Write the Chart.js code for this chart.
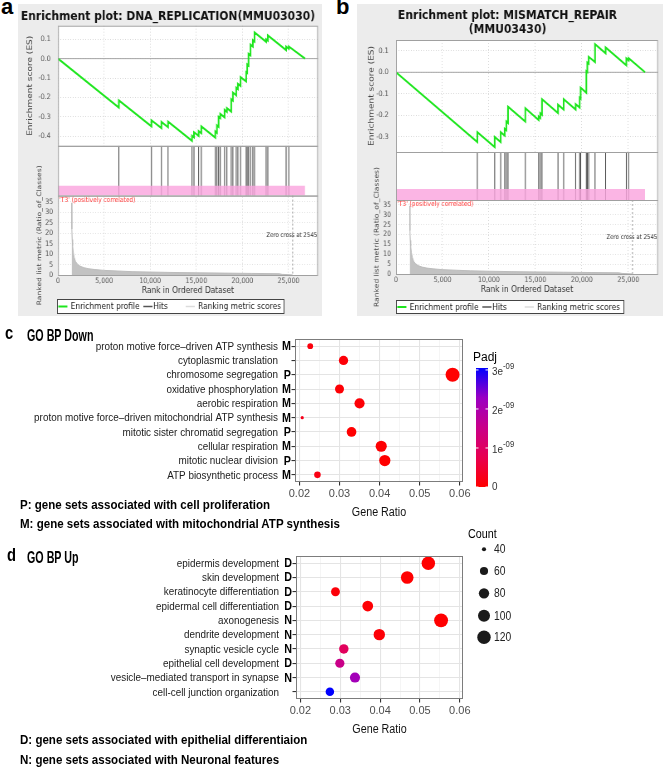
<!DOCTYPE html>
<html>
<head>
<meta charset="utf-8">
<title>GSEA enrichment plots and GO BP dot plots</title>
<script src="https://cdn.jsdelivr.net/npm/chart.js@4.4.1/dist/chart.umd.min.js"></script>
<style>
  html, body { margin: 0; padding: 0; background: #fff; }
  #page { position: relative; width: 669px; height: 767px; overflow: hidden; }
  canvas { display: block; }
  .gsea { position: absolute; top: 4px; transform-origin: 0 0; transform: scaleX(0.83); }
  .dot { position: absolute; left: 0; }
  .t { position: absolute; white-space: nowrap; line-height: 1; font-weight: bold; color: #000;
       font-family: "Liberation Sans", Arial, sans-serif; transform-origin: 0 0; }
</style>
</head>
<body>
<div id="page">
  <div class="gsea" style="left:18px"><canvas id="gseaA" width="366" height="312"></canvas></div>
  <div class="gsea" style="left:357px"><canvas id="gseaB" width="369" height="312"></canvas></div>
  <canvas id="goDown" class="dot" style="top:330px" width="535" height="192"></canvas>
  <canvas id="goUp" class="dot" style="top:520px" width="545" height="222"></canvas>

  <div class="t" style="left:1px;top:-4px;font-size:22px">a</div>
  <div class="t" style="left:336px;top:-4px;font-size:22px">b</div>
  <div class="t" style="left:5px;top:324px;font-size:18px;transform:scaleX(0.82)">c</div>
  <div class="t" style="left:27px;top:326.5px;font-size:17px;transform:scaleX(0.63)">GO BP Down</div>
  <div class="t" style="left:20px;top:497.6px;font-size:13.5px;transform:scaleX(0.855)">P: gene sets associated with cell proliferation</div>
  <div class="t" style="left:20px;top:516.6px;font-size:13.5px;transform:scaleX(0.855)">M: gene sets associated with mitochondrial ATP synthesis</div>
  <div class="t" style="left:7px;top:546px;font-size:18px;transform:scaleX(0.82)">d</div>
  <div class="t" style="left:27px;top:548.6px;font-size:17px;transform:scaleX(0.63)">GO BP Up</div>
  <div class="t" style="left:20px;top:732.6px;font-size:13.5px;transform:scaleX(0.855)">D: gene sets associated with epithelial differentiaion</div>
  <div class="t" style="left:20px;top:752.6px;font-size:13.5px;transform:scaleX(0.855)">N: gene sets associated with Neuronal features</div>
</div>

<script>
// ---------------- data ----------------

// GSEA running enrichment score, vertices [rank, ES]
const esCurveA = [
  [0, 0],
  [6600, -0.253], [6600, -0.215],
  [10134, -0.350], [10134, -0.318],
  [11216, -0.359], [11216, -0.326],
  [11937, -0.354], [11937, -0.325],
  [14535, -0.424], [14535, -0.398],
  [14751, -0.406], [14751, -0.380],
  [15256, -0.399], [15256, -0.374],
  [15545, -0.385], [15545, -0.350],
  [17060, -0.408], [17060, -0.376],
  [17240, -0.383], [17240, -0.345],
  [17420, -0.352], [17420, -0.300],
  [17600, -0.307], [17600, -0.285],
  [18069, -0.303], [18069, -0.265],
  [18321, -0.275], [18321, -0.255],
  [18790, -0.273], [18790, -0.210],
  [18970, -0.217], [18970, -0.175],
  [19331, -0.189], [19331, -0.150],
  [19511, -0.157], [19511, -0.130],
  [19800, -0.141], [19800, -0.095],
  [20413, -0.118], [20413, -0.070],
  [20521, -0.074], [20521, -0.030],
  [20666, -0.036], [20666, 0.025],
  [20882, 0.017], [20882, 0.072],
  [21134, 0.062], [21134, 0.095],
  [21316, 0.088], [21316, 0.135],
  [22578, 0.087], [22578, 0.100],
  [22758, 0.093], [22758, 0.120],
  [24743, 0.044], [24743, 0.062],
  [25032, 0.051], [25032, 0.063],
  [26800, 0]
];
const hitsA = [6600, 10134, 11216, 11937, 14535, 14751, 15256, 15545, 17060, 17240, 17420, 17600,
  18069, 18321, 18790, 18970, 19331, 19511, 19800, 20413, 20521, 20666, 20882, 21134, 21316,
  22578, 22758, 24743, 25032];

const esCurveB = [
  [0, 0],
  [8751, -0.324], [8751, -0.278],
  [10617, -0.347], [10617, -0.300],
  [11263, -0.324], [11263, -0.278],
  [11694, -0.294], [11694, -0.262],
  [11873, -0.269], [11873, -0.228],
  [12053, -0.235], [12053, -0.160],
  [13915, -0.229], [13915, -0.167],
  [15350, -0.222], [15350, -0.205],
  [15529, -0.212], [15529, -0.190],
  [15710, -0.197], [15710, -0.125],
  [17432, -0.189], [17432, -0.150],
  [18042, -0.173], [18042, -0.125],
  [19333, -0.173], [19333, -0.148],
  [19764, -0.164], [19764, -0.118],
  [19871, -0.122], [19871, -0.072],
  [20481, -0.095], [20481, 0.005],
  [20588, 0.001], [20588, 0.045],
  [20731, 0.040], [20731, 0.072],
  [21420, 0.047], [21420, 0.130],
  [22557, 0.088], [22557, 0.115],
  [24784, 0.033], [24784, 0.065],
  [25035, 0.056], [25035, 0.065],
  [26800, 0]
];
const hitsB = [8751, 10617, 11263, 11694, 11873, 12053, 13915, 15350, 15529, 15710, 17432, 18042,
  19333, 19764, 19871, 20481, 20588, 20731, 21420, 22557, 24784, 25035];

// ranked list metric (same ranked list in both panels)
const metricRank  = [1480, 1490, 1510, 1540, 1580, 1650, 1750, 1900, 2100, 2400, 2800, 3300, 4000,
  5000, 6500, 8000, 10000, 12500, 15000, 18000, 21000, 24000, 24300, 25000, 25450];
const metricValue = [34.5, 30, 22, 17, 14, 11, 8.5, 6.5, 5.2, 4.2, 3.5, 3.0, 2.6,
  2.2, 1.9, 1.6, 1.4, 1.2, 1.05, 0.9, 0.75, 0.6, 0.3, 0.15, 0];
const rankTicks = [0, 5000, 10000, 15000, 20000, 25000];
const datasetSize = 26800;
const zeroCross = 25450;
const gseaLegend = ['Enrichment profile', 'Hits', 'Ranking metric scores'];

// GO BP Down
const downTerms = ['proton motive force\u2013driven ATP synthesis', 'cytoplasmic translation',
  'chromosome segregation', 'oxidative phosphorylation', 'aerobic respiration',
  'proton motive force\u2013driven mitochondrial ATP synthesis', 'mitotic sister chromatid segregation',
  'cellular respiration', 'mitotic nuclear division', 'ATP biosynthetic process'];
const downTags   = ['M', '', 'P', 'M', 'M', 'M', 'P', 'M', 'P', 'M'];
const downRatio  = [0.0227, 0.0310, 0.0582, 0.0300, 0.0350, 0.0207, 0.0330, 0.0404, 0.0413, 0.0245];
const downCount  = [43, 62, 111, 60, 69, 39, 65, 78, 79, 46];
const downPadj   = [1.2e-10, 8e-11, 2e-12, 5e-11, 6e-11, 2.6e-10, 1e-11, 3e-11, 4e-12, 1.8e-10];
const padjTicks  = [0, 1e-9, 2e-9, 3e-9];

// GO BP Up
const upTerms = ['epidermis development', 'skin development', 'keratinocyte differentiation',
  'epidermal cell differentiation', 'axonogenesis', 'dendrite development', 'synaptic vesicle cycle',
  'epithelial cell development', 'vesicle\u2013mediated transport in synapse', 'cell-cell junction organization'];
const upTags   = ['D', 'D', 'D', 'D', 'N', 'N', 'N', 'D', 'N', ''];
const upRatio  = [0.0521, 0.0468, 0.0288, 0.0369, 0.0553, 0.0398, 0.0309, 0.0299, 0.0337, 0.0274];
const upCount  = [120, 108, 66, 85, 127, 92, 71, 69, 78, 63];
const upPadj   = [2.1e-6, 4.0e-6, 1.5e-5, 8.0e-6, 3.0e-6, 1.2e-5, 1.35e-4, 2.2e-4, 3.1e-4, 4.4e-4];
const countBreaks = [40, 60, 80, 100, 120];

// ---------------- helpers ----------------
const SANS = '"Liberation Sans", Arial, sans-serif';
const DEJAVU = '"DejaVu Sans", sans-serif';
const CK = 0.86;   // the figure's text is horizontally squeezed

function fillC(ctx, text, x, y, k) {
  ctx.fillText(text, x, y, ctx.measureText(text).width * (k || CK));
}

// ggplot-like red -> blue gradient (Lab interpolated stops)
const padjStops = [[255, 0, 0], [232, 0, 80], [201, 0, 137], [154, 0, 195], [0, 0, 255]];
function padjColor(t) {
  t = Math.max(0, Math.min(1, t));
  const p = t * 4, i = Math.min(3, Math.floor(p)), f = p - i;
  const a = padjStops[i], b = padjStops[i + 1];
  return 'rgb(' + a.map((v, k) => Math.round(v + (b[k] - v) * f)).join(',') + ')';
}
function isMajor(v) { return Math.abs(v * 100 - Math.round(v * 100)) < 1e-6; }

// ---------------- GSEA panels ----------------
const gseaDecor = {
  id: 'gseaDecor',
  beforeDraw(chart) {
    const {ctx, chartArea: a} = chart;
    ctx.save();
    ctx.fillStyle = '#ececec';
    ctx.fillRect(0, 0, chart.width, chart.height);
    ctx.fillStyle = '#fff';
    ctx.fillRect(a.left, a.top, a.width, a.height);
    ctx.restore();
  },
  beforeDatasetsDraw(chart) {
    const {ctx, chartArea: a, scales} = chart;
    const h = scales.yHits, r = scales.yRank;
    ctx.save();
    ctx.fillStyle = '#fff';
    ctx.fillRect(a.left, h.top, a.width, h.bottom - h.top);
    const y0 = scales.yES.getPixelForValue(0);
    ctx.strokeStyle = '#a5a5a5';
    ctx.lineWidth = 1;
    ctx.beginPath(); ctx.moveTo(a.left, y0); ctx.lineTo(a.right, y0); ctx.stroke();
    const xz = scales.x.getPixelForValue(zeroCross);
    ctx.setLineDash([2, 2]);
    ctx.strokeStyle = '#9a9a9a';
    ctx.beginPath(); ctx.moveTo(xz, r.top); ctx.lineTo(xz, r.bottom); ctx.stroke();
    ctx.restore();
  },
  afterDraw(chart, args, o) {
    const {ctx, chartArea: a, scales} = chart;
    ctx.save();
    ctx.strokeStyle = '#a0a0a0';
    ctx.lineWidth = 1;
    ['yES', 'yHits', 'yRank'].forEach(id => {
      const s = scales[id];
      ctx.strokeRect(a.left + 0.5, s.top + 0.5, a.width - 1, s.bottom - s.top);
    });
    ctx.font = '7px ' + DEJAVU;
    ctx.fillStyle = '#ff3b3b';
    ctx.textBaseline = 'top';
    ctx.fillText("'T3' (positively correlated)", a.left + 1.5, scales.yRank.top + 1);
    ctx.fillStyle = '#333';
    ctx.font = '6.5px ' + DEJAVU;
    ctx.textAlign = 'right';
    ctx.textBaseline = 'middle';
    ctx.fillText('Zero cross at 2545', a.right - 1, scales.yRank.top + (scales.yRank.bottom - scales.yRank.top) * 0.5);
    // legend box
    const L = o.legend;
    ctx.fillStyle = '#fff';
    ctx.fillRect(L.x, L.y, L.w, L.h);
    ctx.strokeStyle = '#444';
    ctx.strokeRect(L.x + 0.5, L.y + 0.5, L.w - 1, L.h - 1);
    const cy = L.y + L.h / 2;
    const items = [
      {c: 'rgb(30,230,30)', x: 1.5, tx: 16.5},
      {c: '#555', x: 104, tx: 116},
      {c: '#dcdcdc', x: 155, tx: 170}
    ];
    ctx.font = '9px ' + DEJAVU;
    ctx.textAlign = 'left';
    items.forEach((it, i) => {
      ctx.strokeStyle = it.c;
      ctx.lineWidth = i === 0 ? 2 : 1.5;
      ctx.beginPath(); ctx.moveTo(L.x + it.x, cy); ctx.lineTo(L.x + it.x + 11, cy); ctx.stroke();
      ctx.fillStyle = '#222';
      ctx.fillText(gseaLegend[i], L.x + it.tx, cy + 0.5);
    });
    ctx.restore();
  }
};

function makeGsea(id, o) {
  const hitData = [];
  o.hits.forEach(r => { hitData.push({x: r, y: 0}, {x: r, y: 1}, {x: r, y: null}); });
  const tickFont = {family: DEJAVU, size: 7.5};
  const titleFont = {family: DEJAVU, size: 9};
  return new Chart(document.getElementById(id), {
    type: 'line',
    data: {
      datasets: [
        {label: gseaLegend[0], data: o.es.map(p => ({x: p[0], y: p[1]})), yAxisID: 'yES',
         borderColor: 'rgb(30,230,30)', borderWidth: 2, pointRadius: 0, order: 0},
        {label: 'bar', data: [{x: 0, y: o.pink}, {x: datasetSize, y: o.pink}], yAxisID: 'yHits',
         borderWidth: 0, pointRadius: 0, fill: 'origin', backgroundColor: 'rgba(250,165,222,0.82)', order: 1},
        {label: gseaLegend[1], data: hitData, yAxisID: 'yHits', borderColor: '#444', borderWidth: 1,
         pointRadius: 0, spanGaps: false, order: 2},
        {label: gseaLegend[2], data: metricRank.map((r, i) => ({x: r, y: metricValue[i]})), yAxisID: 'yRank',
         borderColor: '#bcbcbc', borderWidth: 1, backgroundColor: '#c2c2c2', fill: 'origin', pointRadius: 0, order: 3}
      ]
    },
    options: {
      responsive: false, animation: false, devicePixelRatio: 1,
      layout: {padding: {left: 0, right: o.padRight, top: 0, bottom: o.padBottom}},
      plugins: {
        legend: {display: false}, tooltip: {enabled: false},
        title: {display: true, text: o.title, color: '#111', font: {family: DEJAVU, size: 13, weight: 'bold', lineHeight: 1.1},
                padding: {top: o.titleTop, bottom: o.titleBottom}},
        gseaDecor: {legend: o.legend}
      },
      scales: {
        x: {
          type: 'linear', min: 0, max: 28200,
          afterBuildTicks: s => { s.ticks = rankTicks.map(v => ({value: v})); },
          ticks: {autoSkip: false, maxRotation: 0, padding: 1.5,
                  color: '#555', font: tickFont, callback: v => v.toLocaleString('en-US')},
          grid: {color: '#d9d9d9', drawTicks: false},
          border: {display: false, dash: [1, 2]},
          title: {display: true, text: 'Rank in Ordered Dataset', color: '#333', font: titleFont, padding: {top: 0, bottom: 3}},
          afterFit: s => { s.height = 24; }
        },
        yES: {
          type: 'linear', position: 'left', stack: 'g', stackWeight: o.w[0], weight: 3,
          min: o.esMin, max: o.esMax,
          ticks: {stepSize: 0.1, includeBounds: false, autoSkip: false, padding: 9, color: '#555', font: tickFont,
                  callback: v => v.toFixed(1)},
          grid: {color: '#d9d9d9', drawTicks: false},
          border: {display: false, dash: [1, 2]},
          title: {display: true, text: 'Enrichment score (ES)', color: '#444', font: titleFont, padding: {top: o.esTitle, bottom: 0}},
          afterFit: s => { s.width = o.axisW; }
        },
        yHits: {
          type: 'linear', position: 'left', stack: 'g', stackWeight: o.w[1], weight: 2, min: 0, max: 1,
          ticks: {display: false}, grid: {display: false}, border: {display: false},
          afterFit: s => { s.width = o.axisW; }
        },
        yRank: {
          type: 'linear', position: 'left', stack: 'g', stackWeight: o.w[2], weight: 1, min: 0, max: o.rankMax,
          ticks: {stepSize: 5, includeBounds: false, autoSkip: false, padding: 6, color: '#555', font: tickFont},
          grid: {color: '#e2e2e2', drawTicks: false},
          border: {display: false, dash: [1, 2]},
          title: {display: true, text: 'Ranked list metric (Ratio_of_Classes)', color: '#444',
                  font: {family: DEJAVU, size: 7.6}, padding: {top: o.rankTitle, bottom: 0}},
          afterFit: s => { s.width = o.axisW; }
        }
      }
    },
    plugins: [gseaDecor]
  });
}

makeGsea('gseaA', {
  es: esCurveA, hits: hitsA, title: 'Enrichment plot: DNA_REPLICATION(MMU03030)',
  esMin: -0.45, esMax: 0.17, rankMax: 38, pink: 0.2, w: [119.5, 49.5, 79],
  axisW: 48.2, padRight: 4.6, padBottom: 17, titleTop: 5.2, titleBottom: 2.2,
  esTitle: 9, rankTitle: 21, legend: {x: 47, y: 295, w: 274, h: 15}
});
makeGsea('gseaB', {
  es: esCurveB, hits: hitsB, title: ['Enrichment plot: MISMATCH_REPAIR', '(MMU03430)'],
  esMin: -0.37, esMax: 0.15, rankMax: 37.5, pink: 0.23, w: [112, 48, 74],
  axisW: 47, padRight: 6.3, padBottom: 18, titleTop: 4.5, titleBottom: 2.9,
  esTitle: 12.3, rankTitle: 19.3, legend: {x: 47, y: 296, w: 275, h: 14}
});

// ---------------- GO BP dot plots ----------------
const dotDecor = {
  id: 'dotDecor',
  afterDraw(chart, args, o) {
    const {ctx, chartArea: a, scales: {y}} = chart;
    ctx.save();
    ctx.strokeStyle = '#7c7c7c';
    ctx.lineWidth = 1;
    ctx.strokeRect(a.left + 0.5, a.top + 0.5, a.width - 1, a.height - 1);
    // term names and their group letters
    ctx.textAlign = 'right';
    ctx.textBaseline = 'middle';
    o.terms.forEach((t, i) => {
      const yy = y.getPixelForValue(i);
      ctx.fillStyle = '#1a1a1a';
      ctx.font = '11.5px ' + SANS;
      fillC(ctx, t, a.left - 17, yy + 0.5);
      if (o.tags[i]) {
        ctx.fillStyle = '#000';
        ctx.font = 'bold 12.5px ' + SANS;
        fillC(ctx, o.tags[i], a.left - 4, yy + 0.5);
      }
    });
    ctx.textAlign = 'center';
    ctx.fillStyle = '#111';
    ctx.font = '12.5px ' + SANS;
    fillC(ctx, 'Gene Ratio', (a.left + a.right) / 2, a.bottom + 31);
    ctx.textAlign = 'left';
    if (o.colorbar) {
      const c = o.colorbar;
      ctx.textBaseline = 'alphabetic';
      ctx.fillStyle = '#000';
      ctx.font = '12px ' + SANS;
      ctx.fillText('Padj', c.x - 3, c.top - 7);
      const g = ctx.createLinearGradient(0, c.bottom, 0, c.top);
      padjStops.forEach((s, i) => g.addColorStop(i / 4, 'rgb(' + s.join(',') + ')'));
      ctx.fillStyle = g;
      ctx.fillRect(c.x, c.top, c.w, c.bottom - c.top);
      ctx.strokeStyle = '#fff';
      ctx.fillStyle = '#333';
      ctx.textBaseline = 'middle';
      padjTicks.forEach(v => {
        const yy = c.bottom - (v - c.lo) / (c.hi - c.lo) * (c.bottom - c.top);
        ctx.beginPath();
        ctx.moveTo(c.x, yy); ctx.lineTo(c.x + 2.5, yy);
        ctx.moveTo(c.x + c.w - 2.5, yy); ctx.lineTo(c.x + c.w, yy);
        ctx.stroke();
        ctx.font = '11.5px ' + SANS;
        if (v === 0) {
          fillC(ctx, '0', c.x + c.w + 4, yy);
        } else {
          const base = Math.round(v / 1e-9) + 'e';
          fillC(ctx, base, c.x + c.w + 4, yy + 2);
          const w = ctx.measureText(base).width * CK;
          ctx.font = '9px ' + SANS;
          fillC(ctx, '-09', c.x + c.w + 4 + w, yy - 3.5);
        }
      });
    }
    if (o.counts) {
      const c = o.counts;
      ctx.textBaseline = 'alphabetic';
      ctx.fillStyle = '#000';
      ctx.font = '12.5px ' + SANS;
      fillC(ctx, 'Count', c.x - 16, c.titleY);
      ctx.font = '12px ' + SANS;
      ctx.textBaseline = 'middle';
      countBreaks.forEach((v, i) => {
        ctx.fillStyle = '#1a1a1a';
        ctx.beginPath();
        ctx.arc(c.x, c.ys[i], o.radius(v), 0, Math.PI * 2);
        ctx.fill();
        ctx.fillStyle = '#222';
        fillC(ctx, String(v), c.x + 10, c.ys[i] + 0.5);
      });
    }
    ctx.restore();
  }
};

function makeDot(id, terms, tags, ratios, counts, padj, cfg) {
  const pLo = cfg.padjLo != null ? cfg.padjLo : Math.min(...padj);
  const pHi = cfg.padjHi != null ? cfg.padjHi : Math.max(...padj);
  const colors = padj.map(p => padjColor((p - pLo) / (pHi - pLo)));
  const radii = counts.map(cfg.radius);
  return new Chart(document.getElementById(id), {
    type: 'scatter',
    data: {
      datasets: [{
        data: terms.map((t, i) => ({x: ratios[i], y: t})),
        pointRadius: radii, pointHoverRadius: radii,
        pointBackgroundColor: colors, pointBorderColor: colors, pointBorderWidth: 0
      }]
    },
    options: {
      responsive: false, animation: false, devicePixelRatio: 1,
      layout: {padding: {left: 0, right: cfg.padRight, top: cfg.padTop, bottom: cfg.padBottom}},
      plugins: {
        legend: {display: false}, tooltip: {enabled: false},
        dotDecor: {terms: terms, tags: tags, colorbar: cfg.colorbar, counts: cfg.counts, radius: cfg.radius}
      },
      scales: {
        x: {
          type: 'linear', min: cfg.xMin, max: cfg.xMax,
          ticks: {stepSize: 0.005, includeBounds: false, autoSkip: false, maxRotation: 0, padding: 2,
                  color: '#4d4d4d', font: {family: SANS, size: 11}, callback: v => isMajor(v) ? v.toFixed(2) : ''},
          grid: {
            color: c => isMajor(c.tick.value) ? '#e4e4e4' : '#efefef',
            lineWidth: c => isMajor(c.tick.value) ? 1.1 : 0.6,
            tickLength: 3.5,
            tickColor: c => isMajor(c.tick.value) ? '#333' : 'rgba(0,0,0,0)'
          },
          border: {display: false},
          afterFit: s => { s.height = 38; }
        },
        y: {
          type: 'category', labels: terms, offset: true,
          ticks: {display: false, autoSkip: false},
          grid: {offset: false, color: '#e4e4e4', lineWidth: 1.1, tickLength: 3.5, tickColor: '#333'},
          border: {display: false},
          afterFit: s => { s.width = cfg.axisW; }
        }
      }
    },
    plugins: [dotDecor]
  });
}

makeDot('goDown', downTerms, downTags, downRatio, downCount, downPadj, {
  xMin: 0.0189, xMax: 0.0608, axisW: 295, padRight: 72, padTop: 9, padBottom: 2,
  padjLo: 0, padjHi: 3.05e-9,
  radius: c => 1.6 + 5.4 * Math.sqrt(Math.max(0, (c - 39) / (111 - 39))),
  colorbar: {x: 476, w: 12, top: 38, bottom: 157, lo: 0, hi: 3.05e-9}
});
makeDot('goUp', upTerms, upTags, upRatio, upCount, upPadj, {
  xMin: 0.0189, xMax: 0.0608, axisW: 296, padRight: 82, padTop: 36, padBottom: 5,
  radius: c => 1.2 + 5.8 * Math.sqrt(Math.max(0, (c - 38) / 90)),
  counts: {x: 484, titleY: 18, ys: [29.3, 51, 73.3, 95.7, 117.3]}
});
</script>
</body>
</html>
